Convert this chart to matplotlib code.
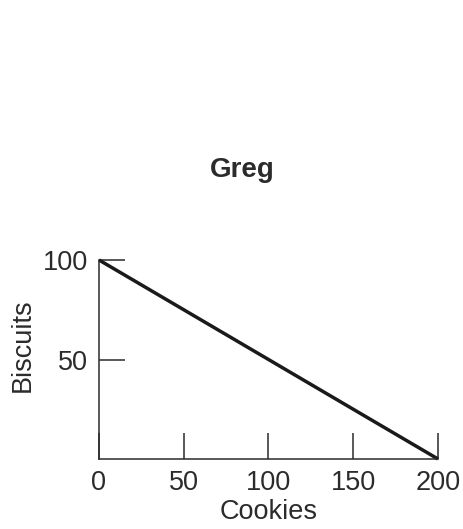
import matplotlib
matplotlib.use('Agg')
import matplotlib.pyplot as plt

# Greg's production possibilities
cookies = [0, 200]
biscuits = [100, 0]
x_ticks = [0, 50, 100, 150, 200]
y_ticks = [50, 100]

plt.rcParams['font.family'] = ['Liberation Sans', 'DejaVu Sans']
txt = '#2b2b2b'
fs = 19.5

fig = plt.figure(figsize=(4.64, 5.29), dpi=100)
ax = fig.add_axes([99 / 464, 70 / 529, 339 / 464, 199 / 529])

ax.plot(cookies, biscuits, color='#1a1a1a', lw=2.5, solid_capstyle='butt', clip_on=False)

ax.set_xlim(0, 200)
ax.set_ylim(0, 100)
ax.set_xticks(x_ticks)
ax.set_yticks(y_ticks)
ax.tick_params(direction='in', length=19, width=1.1, color='#2b2b2b',
               labelsize=fs, labelcolor=txt)
ax.tick_params(axis='x', pad=8)
ax.tick_params(axis='y', pad=8)
for s in ['top', 'right']:
    ax.spines[s].set_visible(False)
for s in ['left', 'bottom']:
    ax.spines[s].set_linewidth(1.1)
    ax.spines[s].set_color('#2b2b2b')

fig.text(242 / 464, 1 - 170 / 529, 'Greg', ha='center', va='center',
         fontsize=20, fontweight='bold', color=txt)
fig.text(269 / 464, 1 - 512 / 529, 'Cookies', ha='center', va='center',
         fontsize=fs, color=txt)
fig.text(23 / 464, 1 - 345 / 529, 'Biscuits', ha='center', va='center',
         rotation=90, fontsize=fs, color=txt)

fig.savefig('out.png', dpi=100)
